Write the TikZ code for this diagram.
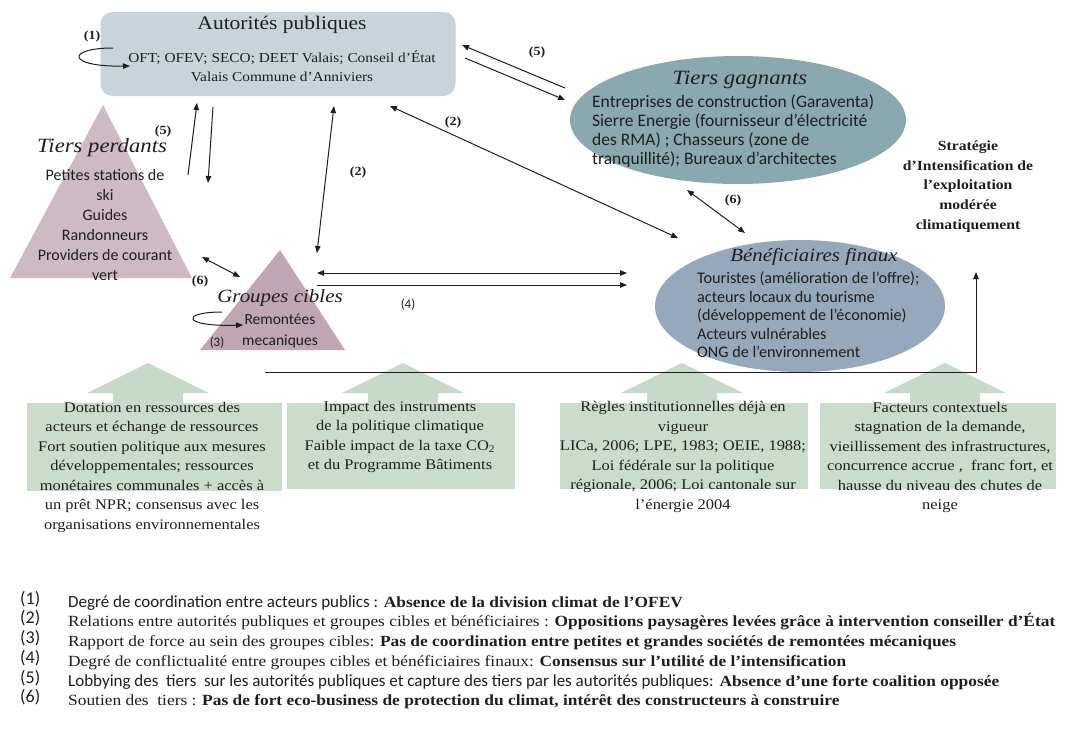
\documentclass[tikz,border=0pt]{standalone}
\usepackage{fontspec}
\setmainfont{Liberation Serif}[FakeStretch=1.12]
\newfontfamily\calibri{Carlito}
\usetikzlibrary{shapes.geometric,arrows.meta}
\definecolor{authority}{HTML}{C9D3DA}
\definecolor{winner}{HTML}{89A8B0}
\definecolor{beneficiary}{HTML}{96A8BB}
\definecolor{loser}{HTML}{CEBAC4}
\definecolor{target}{HTML}{C0A6B5}
\definecolor{factor}{HTML}{CADDCC}
\definecolor{factorarrow}{HTML}{C6DAC9}
\definecolor{ink}{HTML}{1E1E1E}

\begin{document}
\begin{tikzpicture}[x=1pt, y=-1pt, >={Triangle[length=7pt,width=5.5pt]},
  every node/.style={text=ink, inner sep=0pt},
  link/.style={draw=ink, line width=1pt},
  title/.style={font=\fontsize{18.7}{22}\selectfont\itshape},
  bigtitle/.style={font=\fontsize{20.3}{22}\selectfont\itshape},
  sans/.style={font=\calibri\fontsize{16}{20}\selectfont},
  factortext/.style={align=center, font=\fontsize{14.7}{19.5}\selectfont},
  numlabel/.style={font=\fontsize{12.5}{14}\selectfont\bfseries},
  numsans/.style={font=\calibri\fontsize{13}{14}\selectfont},
  legend/.style={anchor=base west, font=\fontsize{15.5}{18}\selectfont},
  legsans/.style={font=\calibri\fontsize{18}{18}\selectfont}]
  \useasboundingbox (0,0) rectangle (1071,731);

  % Public authorities, top left.
  \node[fill=authority, rounded corners=12pt, minimum width=355pt, minimum height=84pt] (autorites) at (278,54) {};
  \node[font=\fontsize{19.2}{22}\selectfont] (aut-title) at (282,25) {Autorités publiques};
  \node[align=center, font=\fontsize{13.7}{19}\selectfont] (aut-list) at (282,66.5) {OFT; OFEV; SECO; DEET Valais; Conseil d’État\\Valais Commune d’Anniviers};

  % The two ellipses on the right.
  \node[ellipse, fill=winner, minimum width=336pt, minimum height=128pt] (gagnants) at (738,120) {};
  \node[bigtitle] (gag-title) at (740,80) {Tiers gagnants};
  \node[align=left, anchor=west, font=\calibri\fontsize{17.5}{19.3}\selectfont] (gag-list) at (592,131) {Entreprises de construction (Garaventa)\\Sierre Energie (fournisseur d’électricité\\des RMA) ; Chasseurs (zone de\\tranquillité); Bureaux d’architectes};

  \node[ellipse, fill=beneficiary, minimum width=290pt, minimum height=132pt] (benef) at (800,306) {};
  \node[title] (ben-title) at (814,257) {Bénéficiaires finaux};
  \node[align=left, anchor=west, font=\calibri\fontsize{16.2}{18.5}\selectfont] (ben-list) at (697,315) {Touristes (amélioration de l’offre);\\acteurs locaux du tourisme\\(développement de l’économie)\\Acteurs vulnérables\\ONG de l’environnement};

  \node[align=center, font=\fontsize{14}{19.75}\selectfont\bfseries] (strategie) at (968,186.5) {Stratégie\\d’Intensification de\\l’exploitation\\modérée\\climatiquement};

  % Triangles for the losing third parties and the target groups.
  \fill[loser] (10,278) -- (103,105) -- (192,278) -- cycle;
  \node[bigtitle] (per-title) at (102,148) {Tiers perdants};
  \node[sans, align=center] (per-list) at (105,225) {Petites stations de\\ski\\Guides\\Randonneurs\\Providers de courant\\vert};

  \fill[target] (200,350) -- (280,250) -- (345,350) -- cycle;
  \node[title] (cib-title) at (280,298) {Groupes cibles};
  \node[align=center, font=\calibri\fontsize{15.5}{21}\selectfont] (cib-list) at (280,330.5) {Remontées\\mecaniques};

  % Factors: pale green block arrows pointing up, with their boxes.
  \fill[factorarrow] (113,404) -- (113,393) -- (87,393) -- (148,363) -- (209,393) -- (183,393) -- (183,404) -- cycle;
  \fill[factorarrow] (368,404) -- (368,393) -- (342,393) -- (403,363) -- (464,393) -- (438,393) -- (438,404) -- cycle;
  \fill[factorarrow] (647,404) -- (647,393) -- (621,393) -- (682,363) -- (743,393) -- (717,393) -- (717,404) -- cycle;
  \fill[factorarrow] (910,404) -- (910,393) -- (884,393) -- (945,363) -- (1006,393) -- (980,393) -- (980,404) -- cycle;
  \node[fill=factor, minimum width=255pt, minimum height=88pt] (box-res) at (154.5,447) {};
  \node[fill=factor, minimum width=228pt, minimum height=86pt] (box-instr) at (401,446) {};
  \node[fill=factor, minimum width=248pt, minimum height=86pt] (box-regles) at (684,446) {};
  \node[fill=factor, minimum width=236pt, minimum height=86pt] (box-context) at (938,446) {};

  \node[factortext] (res-text) at (152,467) {Dotation en ressources des\\acteurs et échange de ressources\\Fort soutien politique aux mesures\\développementales; ressources\\monétaires communales + accès à\\un prêt NPR; consensus avec les\\organisations environnementales};
  \node[factortext] (instr-text) at (400,437) {Impact des instruments\\de la politique climatique\\Faible impact de la taxe CO\textsubscript{2}\\et du Programme Bâtiments};
  \node[factortext] (regles-text) at (683,457) {Règles institutionnelles déjà en\\vigueur\\LICa, 2006; LPE, 1983; OEIE, 1988;\\Loi fédérale sur la politique\\régionale, 2006; Loi cantonale sur\\l’énergie 2004};
  \node[factortext] (context-text) at (940,457.5) {Facteurs contextuels\\stagnation de la demande,\\vieillissement des infrastructures,\\concurrence accrue ,~ franc fort, et\\hausse du niveau des chutes de\\neige};

  % Connectors between the actors.
  \coordinate (aut-e1) at (462,45);
  \coordinate (aut-e2) at (465,58);
  \coordinate (gag-w1) at (565,88);
  \coordinate (gag-w2) at (565,100);
  \draw[link,->] (gag-w1) -- (aut-e1);
  \draw[link,->] (aut-e2) -- (gag-w2);
  \node[numlabel] (n5-right) at (537,52) {(5)};

  \coordinate (aut-s1) at (334,106);
  \coordinate (aut-s2) at (390,106);
  \coordinate (aut-s3) at (197,103);
  \coordinate (aut-s4) at (213,107);
  \coordinate (ben-nw) at (678,238);
  \coordinate (cib-n) at (317,253);
  \draw[link,<->] (aut-s2) -- (ben-nw);
  \node[numlabel] (n2-right) at (453,122) {(2)};
  \draw[link,<->] (aut-s1) -- (cib-n);
  \node[numlabel] (n2-left) at (358,172) {(2)};

  \coordinate (per-ne1) at (188,175);
  \coordinate (per-ne2) at (208,183);
  \draw[link,->] (per-ne1) -- (aut-s3);
  \draw[link,->] (aut-s4) -- (per-ne2);
  \node[numlabel] (n5-left) at (163,131) {(5)};

  \coordinate (per-e) at (202,257);
  \coordinate (cib-w) at (240,277);
  \draw[link,<->] (per-e) -- (cib-w);
  \node[numlabel] (n6-left) at (200,281) {(6)};

  \coordinate (cib-e1) at (317,273);
  \coordinate (cib-e2) at (317,285);
  \coordinate (ben-w1) at (627,273);
  \coordinate (ben-w2) at (627,285);
  \draw[link,<->] (cib-e1) -- (ben-w1);
  \draw[link,->] (cib-e2) -- (ben-w2);
  \node[numsans] (n4) at (408,305) {(4)};

  \coordinate (gag-s) at (687,190);
  \coordinate (ben-n) at (745,233);
  \draw[link,<->] (gag-s) -- (ben-n);
  \node[numlabel] (n6-right) at (733,200) {(6)};

  % Self loops.
  \coordinate (aut-loop) at (113,48);
  \coordinate (aut-w) at (130,66);
  \draw[link,->] (aut-loop) .. controls (66,48) and (66,67) .. (aut-w);
  \node[numlabel] (n1) at (92,36) {(1)};
  \coordinate (cib-loop) at (222,312);
  \coordinate (cib-in) at (243,325);
  \draw[link,->] (cib-loop) .. controls (180,312) and (182,327) .. (cib-in);
  \node[numsans] (n3) at (217,343) {(3)};

  % Everything feeds the strategy.
  \coordinate (flow-start) at (265,372);
  \coordinate (strat-in) at (976,272);
  \draw[link,->] (flow-start) -| (strat-in);

  % Legend.
  \node[legend, legsans] (k1) at (20,604) {(1)};
  \node[legend, legsans] (k2) at (20,623) {(2)};
  \node[legend, legsans] (k3) at (20,643) {(3)};
  \node[legend, legsans] (k4) at (20,663) {(4)};
  \node[legend, legsans] (k5) at (20,683) {(5)};
  \node[legend, legsans] (k6) at (20,702) {(6)};
  \node[legend] (d1) at (68,607) {{\calibri\fontsize{17}{18}\selectfont Degré de coordination entre acteurs publics :} \textbf{Absence de la division climat de l’OFEV}};
  \node[legend] (d2) at (68,626) {Relations entre autorités publiques et groupes cibles et bénéficiaires : \textbf{Oppositions paysagères levées grâce à intervention conseiller d’État}};
  \node[legend] (d3) at (68,646) {Rapport de force au sein des groupes cibles: \textbf{Pas de coordination entre petites et grandes sociétés de remontées mécaniques}};
  \node[legend] (d4) at (68,666) {Degré de conflictualité entre groupes cibles et bénéficiaires finaux: \textbf{Consensus sur l’utilité de l’intensification}};
  \node[legend] (d5) at (68,686) {{\calibri\fontsize{17}{18}\selectfont Lobbying des~ tiers~ sur les autorités publiques et capture des tiers par les autorités publiques:} \textbf{Absence d’une forte coalition opposée}};
  \node[legend] (d6) at (68,705) {Soutien des~ tiers : \textbf{Pas de fort eco-business de protection du climat, intérêt des constructeurs à construire}};
\end{tikzpicture}
\end{document}
